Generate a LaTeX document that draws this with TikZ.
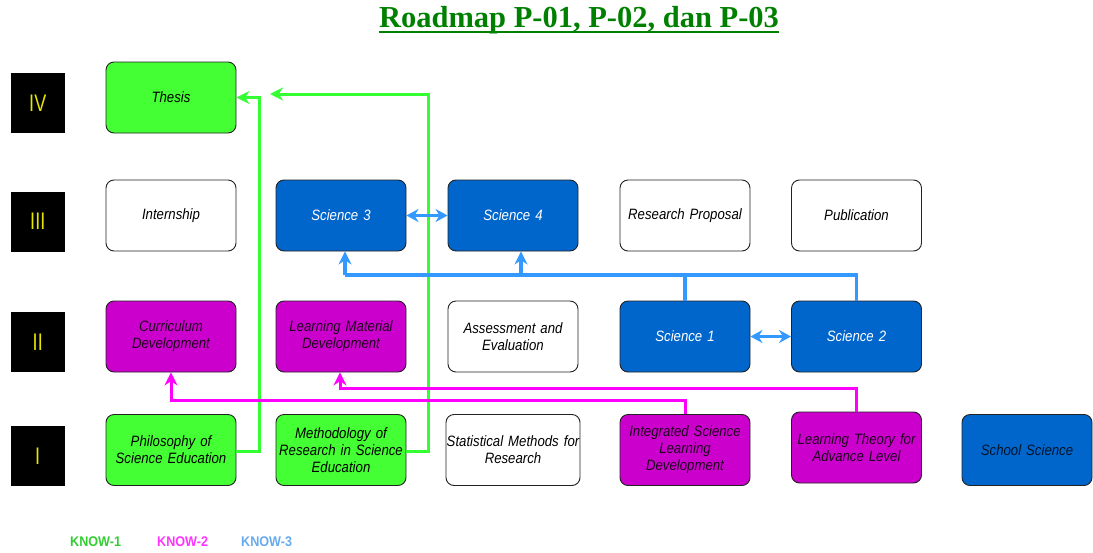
\documentclass[tikz,border=0pt]{standalone}
\usepackage{fontspec}
\setmainfont{Liberation Serif}
\setsansfont{Liberation Sans}
\newfontfamily\boxfont[FakeStretch=0.88]{Liberation Sans}
\newfontfamily\lvlfont[FakeStretch=0.75]{Liberation Sans}
\newfontfamily\legfont[FakeStretch=0.9]{Liberation Sans}
\usetikzlibrary{arrows.meta}
\definecolor{gfill}{HTML}{44FF33}
\definecolor{gline}{HTML}{33FF33}
\definecolor{mfill}{HTML}{CC00CC}
\definecolor{mline}{HTML}{FF00FF}
\definecolor{bfill}{HTML}{0066CC}
\definecolor{bline}{HTML}{3399FF}
\definecolor{titlegreen}{HTML}{008000}
\definecolor{leggreen}{HTML}{33CC33}
\definecolor{legmag}{HTML}{FF33FF}
\definecolor{legblue}{HTML}{66AAEE}
\definecolor{lvlyellow}{HTML}{E6E600}
\definecolor{bordergray}{HTML}{222222}
\begin{document}
\begin{tikzpicture}[x=1pt,y=-1pt,
  box/.style={draw=bordergray, line width=0.9pt, rounded corners=8pt,
    minimum width=130pt, minimum height=71pt, inner sep=0pt,
    text width=126pt, align=center,
    font=\boxfont\itshape\fontsize{15}{17}\selectfont},
  whitebox/.style={box, fill=white, text=black},
  greenbox/.style={box, fill=gfill, text=black},
  magbox/.style={box, fill=mfill, text=black!85!mfill},
  bluebox/.style={box, fill=bfill, text=white},
  lvl/.style={fill=black, minimum width=54.5pt, minimum height=60pt, inner sep=0pt,
    text=lvlyellow, font=\lvlfont\fontsize{24}{24}\selectfont},
  garrow/.style={draw=gline, line width=3pt, -{Stealth[length=13pt,width=13pt]}},
  marrow/.style={draw=mline, line width=3pt, -{Stealth[length=13pt,width=13pt]}},
  barrow/.style={draw=bline, line width=3.5pt, -{Stealth[length=13pt,width=13pt]}},
  bline/.style={draw=bline, line width=3.5pt},
  bdouble/.style={draw=bline, line width=3.5pt, {Stealth[length=12pt,width=13pt]}-{Stealth[length=12pt,width=13pt]}},
  legend/.style={anchor=west, inner sep=0pt, font=\legfont\bfseries\fontsize{14}{14}\selectfont},
  title/.style={inner sep=0pt, text=titlegreen, font=\bfseries\fontsize{30.5}{30.5}\selectfont}
]
\useasboundingbox (0,0) rectangle (1093,552);

% title
\node[title] (title) at (579,20) {Roadmap P-01, P-02, dan P-03};
\draw[titlegreen, line width=2.2pt] ([yshift=-4.5pt]title.base west) -- ([yshift=-4.5pt]title.base east);

% level labels
\node[lvl] (l4) at (37.75,103) {IV};
\node[lvl] (l3) at (37.75,221.5) {III};
\node[lvl] (l2) at (37.75,342) {II};
\node[lvl] (l1) at (37.75,456) {I};

% row IV
\node[greenbox] (thesis) at (171,97.5) {Thesis};
% row III
\node[whitebox] (intern) at (171,215.5) {Internship};
\node[bluebox] (sci3) at (341,215.5) {Science 3};
\node[bluebox] (sci4) at (513,215.5) {Science 4};
\node[whitebox] (rp) at (685,215.5) {Research Proposal};
\node[whitebox] (pub) at (856.5,215.5) {Publication};
% row II
\node[magbox] (curr) at (171,336.5) {Curriculum\\Development};
\node[magbox] (lmd) at (341,336.5) {Learning Material\\Development};
\node[whitebox] (ae) at (513,336.5) {Assessment and\\Evaluation};
\node[bluebox] (sci1) at (685,336.5) {Science 1};
\node[bluebox] (sci2) at (856.5,336.5) {Science 2};
% row I
\node[greenbox] (phil) at (171,450) {Philosophy of\\Science Education};
\node[greenbox] (meth) at (341,450) {Methodology of\\Research in Science\\Education};
\node[whitebox, text width=134pt] (stat) at (513,450) {Statistical Methods for\\Research};
\node[magbox] (isld) at (685,450) {Integrated Science\\Learning\\Development};
\node[magbox] (lt) at (856.5,447.5) {Learning Theory for\\Advance Level};
\node[bluebox, text=black!80!bfill] (school) at (1027,450) {School Science};

% green connectors (KNOW-1)
\coordinate (g1turn) at (259,451);
\draw[garrow] (phil.east |- g1turn) -- (g1turn) |- (thesis.east);
\coordinate (g2turn) at (428,94);
\coordinate (g2end) at (270,94);
\draw[garrow] (meth.east |- g1turn) -| (g2turn) -- (g2end);

% magenta connectors (KNOW-2)
\coordinate (m1) at (685,400.5);
\draw[marrow] (isld.north) -- (m1) -| (curr.south);
\coordinate (m2) at (856.5,388);
\coordinate (m2end) at (340,388);
\draw[marrow] (lt.north) -- (m2) -- (m2end) -- (m2end |- lmd.south);

% blue connectors (KNOW-3)
\coordinate (bl) at (345,275);
\coordinate (br) at (856.5,275);
\coordinate (bm) at (521,275);
\draw[bline] (sci2.north) -- (br) -- (bl);
\draw[bline] (sci1.north) -- (sci1.north |- bl);
\draw[barrow] (bl) -- (bl |- sci3.south);
\draw[barrow] (bm) -- (bm |- sci4.south);
\draw[bdouble] (sci3.east) -- (sci4.west);
\draw[bdouble] (sci1.east) -- (sci2.west);

% legend
\node[legend, text=leggreen] (k1) at (70,542) {KNOW-1};
\node[legend, text=legmag] (k2) at (157,542) {KNOW-2};
\node[legend, text=legblue] (k3) at (241,542) {KNOW-3};
\end{tikzpicture}
\end{document}
